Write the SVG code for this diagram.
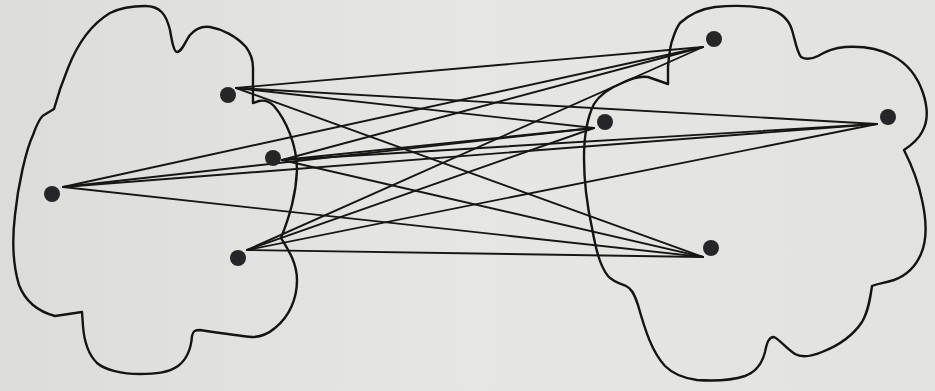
<svg xmlns="http://www.w3.org/2000/svg" width="935" height="391" viewBox="0 0 935 391">
<defs>
<linearGradient id="bg" x1="0" y1="0" x2="1" y2="0">
<stop offset="0" stop-color="#dcdcda"/>
<stop offset="0.5" stop-color="#e6e6e4"/>
<stop offset="1" stop-color="#e2e2e0"/>
</linearGradient>
</defs>
<style>
.blob{fill:none;stroke:#141414;stroke-width:2.4;stroke-linejoin:round}
.dot{fill:#262628}
#edges line{stroke:#161616;stroke-width:1.9;stroke-linecap:round}
</style>
<rect width="935" height="391" fill="url(#bg)"/>
<path id="left-set" class="blob" d="M145,6 C160,6 166,14 170,30 C172,42 174,52 177,52 C182,52 186,40 190,35 C196,28 203,26 210,27 C222,29 236,36 246,47 C252,55 253,62 253,68 L253,103 L259,101 C264,100 270,102 274,106 C286,120 297,145 297,170 C296,195 290,215 281,238 C287,248 297,262 297,280 C297,298 290,316 275,328 C268,334 260,337 252,337 C240,336 220,333 200,330 C195,330 193,331 192,336 C191,350 186,360 178,366 C168,373 155,374 140,374 C122,374 105,370 97,363 C88,354 84,340 83,326 L82,312 L55,316 C40,312 26,303 19,285 C13,265 12,240 15,215 C18,185 26,150 33,135 C37,124 40,117 44,115 L54,109 C57,98 61,85 68,68 C77,45 90,25 110,13 C120,8 132,6 145,6 Z"/>
<path id="right-set" class="blob" d="M680,23 C690,14 700,9 715,7 C735,5 755,6 770,9 C782,13 789,20 792,30 C795,40 797,52 801,57 C806,60 812,59 818,56 C826,51 834,48 845,47 C860,46 878,48 893,56 C908,64 918,78 923,93 C928,108 928,122 922,132 C918,140 910,146 904,150 C910,162 918,180 922,200 C927,222 927,240 921,254 C915,268 905,276 894,280 C884,283 876,284 872,286 C870,300 868,312 862,322 C854,334 840,345 822,352 C810,357 802,358 795,354 C786,348 780,340 774,337 C769,337 767,342 765,352 C762,364 756,372 745,376 C730,381 712,381 697,380 C682,378 672,373 665,366 C652,352 645,330 638,305 C634,293 631,288 626,286 C618,283 612,281 608,276 C600,266 596,250 592,228 C587,205 584,180 584,158 C584,135 587,118 594,104 C600,94 610,88 622,83 C632,78 642,76 648,77 L668,84 L668,67 C669,55 670,45 673,38 C675,32 677,27 680,23 Z"/>
<g id="edges">
<line x1="236" y1="88" x2="703" y2="47"/>
<line x1="236" y1="88" x2="594" y2="128"/>
<line x1="236" y1="88" x2="877" y2="124"/>
<line x1="236" y1="88" x2="703" y2="257"/>
<line x1="282" y1="160" x2="703" y2="47"/>
<line x1="282" y1="160" x2="594" y2="128"/>
<line x1="282" y1="160" x2="877" y2="124"/>
<line x1="282" y1="160" x2="703" y2="257"/>
<line x1="63" y1="187" x2="703" y2="47"/>
<line x1="63" y1="187" x2="594" y2="128"/>
<line x1="63" y1="187" x2="877" y2="124"/>
<line x1="63" y1="187" x2="703" y2="257"/>
<line x1="247" y1="250" x2="703" y2="47"/>
<line x1="247" y1="250" x2="594" y2="128"/>
<line x1="247" y1="250" x2="877" y2="124"/>
<line x1="247" y1="250" x2="703" y2="257"/>
</g>
<g id="a1"><circle class="dot" cx="228" cy="95" r="8"/></g>
<g id="a2"><circle class="dot" cx="273" cy="158" r="8"/></g>
<g id="a3"><circle class="dot" cx="52" cy="194" r="8"/></g>
<g id="a4"><circle class="dot" cx="238" cy="258" r="8"/></g>
<g id="b1"><circle class="dot" cx="714" cy="39" r="8"/></g>
<g id="b2"><circle class="dot" cx="605" cy="122" r="8"/></g>
<g id="b3"><circle class="dot" cx="888" cy="117" r="8"/></g>
<g id="b4"><circle class="dot" cx="711" cy="248" r="8"/></g>
</svg>
